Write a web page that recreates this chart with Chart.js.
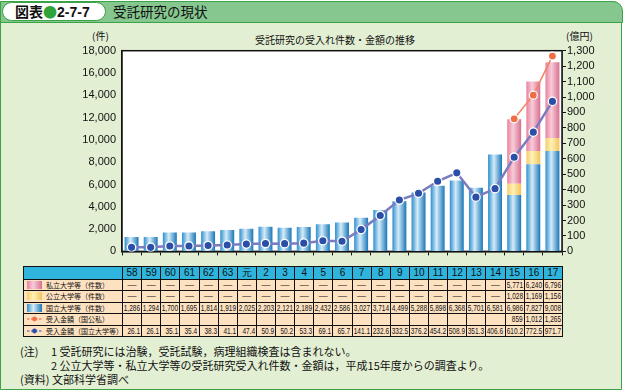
<!DOCTYPE html>
<html>
<head>
<meta charset="utf-8">
<script src="https://cdn.jsdelivr.net/npm/chart.js@4.4.1/dist/chart.umd.min.js"></script>
<style>
    body { margin: 0; width: 624px; height: 391px; background: #fff; position: relative; overflow: hidden; font-family: 'Noto Sans CJK JP', sans-serif; color: #111; }
    .frame { position: absolute; left: 0; top: 1px; width: 620px; height: 387px; border: 1.5px solid #3aa346; border-radius: 0 10px 0 0; background: #e3efd3; }
    .bar { position: absolute; left: 0; top: 1px; width: 623px; height: 22px; box-sizing: border-box; background: #86c78f; border: 1.5px solid #3aa346; border-radius: 0 10px 0 0; }
    .tab { position: absolute; left: 2px; top: 2px; width: 104px; height: 19px; box-sizing: border-box; background: #fff; border: 1.5px solid #3aa346; border-radius: 10px; font-size: 14px; font-weight: bold; line-height: 16px; padding-left: 12px; white-space: nowrap; }
    .tab .dot { color: #2da33a; }
    .tab .num { font-family: 'Liberation Sans', Arial, sans-serif; }
    .title { position: absolute; left: 113px; top: 3px; font-size: 13.5px; line-height: 17px; }
    .lbl { position: absolute; font-size: 10px; line-height: 12px; white-space: nowrap; }
    canvas { position: absolute; left: 20px; top: 28px; }
    table { position: absolute; left: 23px; top: 266px; width: 540px; border-collapse: collapse; table-layout: fixed; }
    td { position: relative; border: 1px solid #111; padding: 0; height: 10.5px; font-family: 'Liberation Sans', Arial, sans-serif; font-size: 9px; line-height: 10.5px; text-align: center; background: #fde2c1; white-space: nowrap; }
    td .v { position: absolute; right: 1px; top: 0; font-size: 8.8px; transform: scaleX(0.74); transform-origin: right center; }
    tr.head td { background: #2fb5dd; font-size: 10px; height: 11.5px; }
    td.name { text-align: left; font-family: 'Noto Sans CJK JP', sans-serif; font-size: 7px; padding-left: 3px; }
    .sw { display: inline-block; width: 15px; height: 8px; vertical-align: -1px; margin-right: 4px; }
    .notes { position: absolute; font-size: 11px; line-height: 13.5px; white-space: nowrap; }
</style>
</head>
<body>
<div class="frame"></div>
<div class="bar"></div>
<div class="tab">図表<span class="dot">●</span><span class="num">2-7-7</span></div>
<div class="title">受託研究の現状</div>
<div class="lbl" style="left:92px; top:30px;">(件)</div>
<div class="lbl" style="left:566px; top:30px;">(億円)</div>
<div class="lbl" style="left:255px; top:34px;">受託研究の受入れ件数・金額の推移</div>
<canvas id="chart" width="600" height="236"></canvas>
<table id="table"></table>
<div class="notes" style="left:20px; top:345px;">(注)</div>
<div class="notes" style="left:51px; top:345px;">1 受託研究には治験，受託試験，病理組織検査は含まれない。</div>
<div class="notes" style="left:51px; top:359px;">2 公立大学等・私立大学等の受託研究受入れ件数・金額は，平成15年度からの調査より。</div>
<div class="notes" style="left:20px; top:373px;">(資料) 文部科学省調べ</div>

<script>
const categories = ['58', '59', '60', '61', '62', '63', '元', '2', '3', '4', '5', '6', '7', '8', '9', '10', '11', '12', '13', '14', '15', '16', '17'];

// bar heights as drawn in the chart (件)
const nationalCount = [1286, 1294, 1700, 1695, 1814, 1919, 2025, 2203, 2121, 2189, 2432, 2586, 3027, 3714, 4499, 5288, 5898, 6368, 5701, 8700, 5050, 7827, 9008];
const publicCount = [null, null, null, null, null, null, null, null, null, null, null, null, null, null, null, null, null, null, null, null, 1028, 1169, 1156];
const privateCount = [null, null, null, null, null, null, null, null, null, null, null, null, null, null, null, null, null, null, null, null, 5771, 6240, 6796];

// amounts (億円)
const totalAmount = [null, null, null, null, null, null, null, null, null, null, null, null, null, null, null, null, null, null, null, null, 859, 1012, 1265];
const nationalAmount = [26.1, 26.1, 35.1, 35.4, 38.3, 41.1, 47.4, 50.9, 50.2, 53.3, 69.1, 65.7, 141.1, 232.6, 332.5, 376.2, 454.2, 508.9, 351.3, 406.6, 610.2, 772.5, 971.7];

// table row for national count as printed
const tableNationalCount = [1286, 1294, 1700, 1695, 1814, 1919, 2025, 2203, 2121, 2189, 2432, 2586, 3027, 3714, 4499, 5288, 5898, 6368, 5701, 6581, 6986, 7827, 9008];

const leftTicks = { min: 0, max: 18000, step: 2000 };
const rightTicks = { min: 0, max: 1300, step: 100 };

const blueStops = ['#2f8fcf', '#d4ecf9', '#1a76b8'];
const yellowStops = ['#f6cd6a', '#fff2b8', '#f1c45c'];
const pinkStops = ['#e9829f', '#f7ccda', '#d7708f'];

function barGradient(c, stops) {
    const chart = c.chart;
    const xs = chart.scales.x;
    if (!xs || c.dataIndex === undefined || !xs.width) return stops[0];
    const cx = xs.getPixelForValue(c.dataIndex);
    const w = xs.width / categories.length * 0.73;
    const g = chart.ctx.createLinearGradient(cx - w / 2, 0, cx + w / 2, 0);
    g.addColorStop(0, stops[0]);
    g.addColorStop(0.42, stops[1]);
    g.addColorStop(1, stops[2]);
    return g;
}

const plotFrame = {
    id: 'plotFrame',
    beforeDatasetsDraw(chart) {
        const a = chart.chartArea;
        const ctx = chart.ctx;
        ctx.save();
        ctx.fillStyle = '#fff';
        ctx.fillRect(a.left, a.top, a.right - a.left, a.bottom - a.top);
        ctx.strokeStyle = '#111';
        ctx.lineWidth = 1.5;
        ctx.strokeRect(a.left, a.top, a.right - a.left, a.bottom - a.top);
        ctx.restore();
    }
};

const tickFont = { family: "'Liberation Sans', Arial, sans-serif", size: 11 };

new Chart(document.getElementById('chart'), {
    type: 'bar',
    data: {
        labels: categories,
        datasets: [
            { label: '国立大学等（件数）', data: nationalCount, backgroundColor: c => barGradient(c, blueStops), yAxisID: 'y', order: 2 },
            { label: '公立大学等（件数）', data: publicCount, backgroundColor: c => barGradient(c, yellowStops), yAxisID: 'y', order: 2 },
            { label: '私立大学等（件数）', data: privateCount, backgroundColor: c => barGradient(c, pinkStops), yAxisID: 'y', order: 2 },
            {
                type: 'line', label: '受入金額（国公私）', data: totalAmount, yAxisID: 'y1', order: 1,
                borderColor: '#f2845f', borderWidth: 1.5, pointRadius: 4, pointBackgroundColor: '#ef6f45',
                pointBorderColor: '#fff', pointBorderWidth: 1.2
            },
            {
                type: 'line', label: '受入金額（国立大学等）', data: nationalAmount, yAxisID: 'y1', order: 0,
                borderColor: '#7a7cc0', borderWidth: 2.5, pointRadius: 4.2, pointBackgroundColor: '#2b4ea6',
                pointBorderColor: '#fff', pointBorderWidth: 1.3
            }
        ]
    },
    options: {
        responsive: false,
        animation: false,
        datasets: { bar: { barPercentage: 0.73, categoryPercentage: 1, borderWidth: 0 } },
        layout: { padding: { top: 22.7, left: 0, right: 0, bottom: 0 } },
        plugins: { legend: { display: false }, tooltip: { enabled: false } },
        scales: {
            x: {
                stacked: true,
                ticks: { display: false },
                grid: { offset: true, drawOnChartArea: false, color: '#111', tickLength: 4 },
                border: { color: '#111', width: 1.5 },
                afterFit: s => { s.height = 6; }
            },
            y: {
                stacked: true,
                position: 'left',
                min: leftTicks.min, max: leftTicks.max,
                ticks: { stepSize: leftTicks.step, autoSkip: false, color: '#111', font: tickFont, padding: 6, callback: v => v.toLocaleString('en-US') },
                grid: { drawOnChartArea: false, drawTicks: false },
                border: { color: '#111', width: 1.5 },
                afterFit: s => { s.width = 102; }
            },
            y1: {
                position: 'right',
                min: rightTicks.min, max: rightTicks.max,
                ticks: { stepSize: rightTicks.step, autoSkip: false, color: '#111', font: tickFont, padding: 1, callback: v => v.toLocaleString('en-US') },
                grid: { drawOnChartArea: false, color: '#111', tickLength: 4 },
                border: { color: '#111', width: 1.5 },
                afterFit: s => { s.width = 58; }
            }
        }
    },
    plugins: [plotFrame]
});

// data table under the chart
function fmt(v) { return v === null ? '' : v.toLocaleString('en-US'); }
function swatch(stops) {
    return `<span class="sw" style="background:linear-gradient(90deg, ${stops[0]}, ${stops[1]} 42%, ${stops[2]})"></span>`;
}
function lineMark(color, dot) {
    return `<svg class="sw" viewBox="0 0 15 8" width="15" height="8"><line x1="0" y1="4" x2="15" y2="4" stroke="${color}" stroke-width="1.3" stroke-dasharray="2.5 1.5"/><circle cx="7.5" cy="4" r="2.4" fill="${dot}"/></svg>`;
}

const rows = [
    { name: swatch(pinkStops) + '私立大学等（件数）', values: privateCount, dash: true },
    { name: swatch(yellowStops) + '公立大学等（件数）', values: publicCount, dash: true },
    { name: swatch(blueStops) + '国立大学等（件数）', values: tableNationalCount, dash: false },
    { name: lineMark('#f2845f', '#ef6f45') + '受入金額（国公私）', values: totalAmount, dash: false },
    { name: lineMark('#7a7cc0', '#2b4ea6') + '受入金額（国立大学等）', values: nationalAmount, dash: false }
];

const table = document.getElementById('table');
let html = '<colgroup><col style="width:99px">' + categories.map(() => '<col>').join('') + '</colgroup>';
html += '<tr class="head"><td></td>' + categories.map(c => `<td>${c}</td>`).join('') + '</tr>';
rows.forEach(r => {
    html += `<tr><td class="name">${r.name}</td>`;
    r.values.forEach(v => {
        if (v === null && r.dash) html += '<td>—</td>';
        else if (v === null) html += '<td></td>';
        else html += `<td><span class="v">${fmt(v)}</span></td>`;
    });
    html += '</tr>';
});
table.innerHTML = html;
</script>
</body>
</html>
